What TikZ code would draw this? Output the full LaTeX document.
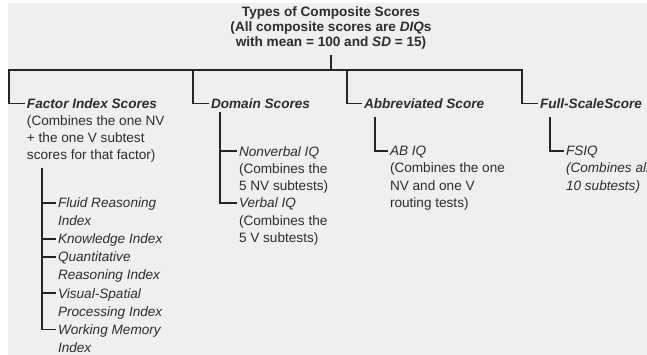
\documentclass[tikz,border=0pt]{standalone}
\usepackage{fontspec}
\setmainfont{Liberation Sans}
\definecolor{panel}{RGB}{239,239,239}
\definecolor{linec}{RGB}{38,38,38}
\definecolor{inkc}{RGB}{45,45,45}
\begin{document}
\begin{tikzpicture}[x=1pt,y=-1pt,
  wire/.style={draw=linec, line width=1.7pt, line join=miter},
  basictext/.style={text=inkc, inner sep=0pt, outer xsep=2pt, outer ysep=0pt},
  heading/.style={basictext, anchor=north, align=center,
    font=\bfseries\fontsize{13.6}{15}\selectfont},
  branch/.style={basictext, anchor=base west,
    font=\bfseries\itshape\fontsize{13.6}{17.3}\selectfont},
  body/.style={basictext, anchor=north west, align=left,
    font=\fontsize{13.6}{17.3}\selectfont},
  listitem/.style={basictext, anchor=north west, align=left,
    font=\itshape\fontsize{13.6}{18.1}\selectfont},
]
% canvas
\useasboundingbox (0,0) rectangle (647,355);
\fill[white] (0,0) rectangle (647,355);
\fill[panel] (8,3) rectangle (647,355);

% heading
\node[heading] (title) at (331,7.1)
  {Types of Composite Scores\\(All composite scores are \textit{DIQ}s\\with mean = 100 and \textit{SD} = 15)};

% main bar
\coordinate (hub) at (331,70);
\coordinate (b1) at (9,70);
\coordinate (b2) at (193,70);
\coordinate (b3) at (347,70);
\coordinate (b4) at (522,70);

% four branches
\node[branch] (fac) at (25,108.5) {Factor Index Scores};
\node[branch] (dom) at (209,108.5) {Domain Scores};
\node[branch] (abb) at (362,108.5) {Abbreviated Score};
\node[branch] (ful) at (538,108.5) {Full-ScaleScore};

\draw[wire] ([yshift=-5pt]title.south) -- (hub);
\draw[wire] (fac.west) -| (b1) -- (b4) |- (ful.west);
\draw[wire] (b2) |- (dom.west);
\draw[wire] (b3) |- (abb.west);

% factor index scores
\node[body] (facd) at (25,115.4)
  {(Combines the one NV\\+ the one V subtest\\scores for that factor)};
\coordinate (fv) at (42,168);
\node[listitem] (fr) at (56,197.7) {Fluid Reasoning\\Index};
\node[listitem] (ki) at (56,233.9) {Knowledge Index};
\node[listitem] (qr) at (56,252.0) {Quantitative\\Reasoning Index};
\node[listitem] (vs) at (56,288.2) {Visual-Spatial\\Processing Index};
\node[listitem] (wm) at (56,324.4) {Working Memory\\Index};
\foreach \n in {fr,ki,qr,vs,wm}
  \coordinate (\n t) at ([yshift=-5pt]\n.north west);
\draw[wire] (fv) |- (wmt);
\foreach \n in {fr,ki,qr,vs}
  \draw[wire] (fv |- \n t) -- (\n t);

% domain scores
\coordinate (dv) at (220,112);
\node[body] (nv) at (237,146.2) {\textit{Nonverbal IQ}\\(Combines the\\5 NV subtests)};
\node[body] (vb) at (237,198.1) {\textit{Verbal IQ}\\(Combines the\\5 V subtests)};
\coordinate (nvt) at ([yshift=-5pt]nv.north west);
\coordinate (vbt) at ([yshift=-5pt]vb.north west);
\draw[wire] (dv) |- (vbt);
\draw[wire] (dv |- nvt) -- (nvt);

% abbreviated score
\coordinate (av) at (375,117);
\node[body] (ab) at (388,146.2) {\textit{AB IQ}\\(Combines the one\\NV and one V\\routing tests)};
\coordinate (abt) at ([yshift=-5pt]ab.north west);
\draw[wire] (av) |- (abt);

% full-scale score
\coordinate (uv) at (550,117);
\node[body, font=\itshape\fontsize{13.6}{17.3}\selectfont] (fs) at (564,146.2)
  {FSIQ\\(Combines all\\10 subtests)};
\coordinate (fst) at ([yshift=-5pt]fs.north west);
\draw[wire] (uv) |- (fst);
\end{tikzpicture}
\end{document}
